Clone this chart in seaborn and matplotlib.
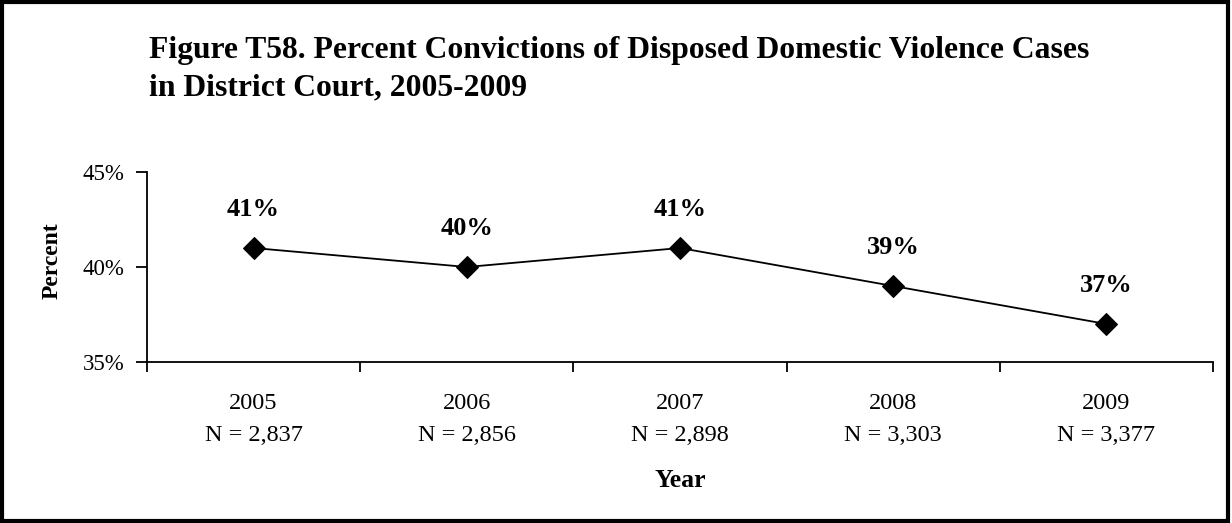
import matplotlib
matplotlib.use("Agg")
import matplotlib.pyplot as plt
from matplotlib.patches import Rectangle
from matplotlib.ticker import FixedLocator, PercentFormatter
import seaborn as sns
import pandas as pd

years = ["2005", "2006", "2007", "2008", "2009"]
case_counts = ["2,837", "2,856", "2,898", "3,303", "3,377"]
pct_convicted = [41, 40, 41, 39, 37]
title_lines = ["Figure T58. Percent Convictions of Disposed Domestic Violence Cases",
               "in District Court, 2005-2009"]

sns.set_theme(style="white")
plt.rcParams["font.family"] = ["Liberation Serif", "DejaVu Serif"]
plt.rcParams.update({"text.color": "black", "axes.labelcolor": "black",
                     "xtick.color": "black", "ytick.color": "black"})

df = pd.DataFrame({"pos": range(len(years)), "pct": pct_convicted})

W, H = 1232, 523
fig = plt.figure(figsize=(W / 100, H / 100), dpi=100)
ax = fig.add_axes([147 / W, 1 - 362 / H, (1213 - 147) / W, (362 - 172) / H])

sns.lineplot(data=df, x="pos", y="pct", ax=ax, color="black", linewidth=1.3,
             marker="D", markersize=11.5, markeredgecolor="black",
             markerfacecolor="black")

for x, y in zip(df["pos"], df["pct"]):
    ax.annotate(f"{y}%", (x, y), xytext=(0, 19.5), textcoords="offset points",
                ha="center", va="bottom", fontsize=19, fontweight="bold")

ax.set_xlim(-0.5, len(years) - 0.5)
ax.set_ylim(35, 45)
ax.yaxis.set_major_locator(FixedLocator([35, 40, 45]))
ax.yaxis.set_major_formatter(PercentFormatter(decimals=0))

# category labels sit between boundary tick marks
ax.set_xticks([i - 0.5 for i in range(len(years) + 1)])
ax.set_xticklabels([])
ax.set_xticks(list(range(len(years))), minor=True)
ax.set_xticklabels([f"{y}\nN = {n}" for y, n in zip(years, case_counts)],
                   minor=True, fontsize=17.5, linespacing=1.7)
ax.tick_params(axis="x", which="major", direction="out", length=7, width=1.3,
               bottom=True)
ax.tick_params(axis="x", which="minor", length=0, pad=22)
ax.tick_params(axis="y", direction="out", length=8, width=1.3, left=True,
               labelsize=16.5, pad=8)

for side in ("top", "right"):
    ax.spines[side].set_visible(False)
for side in ("left", "bottom"):
    ax.spines[side].set_color("black")
    ax.spines[side].set_linewidth(1.3)

ax.set_xlabel("Year", fontsize=18.5, fontweight="bold")
ax.xaxis.set_label_coords(0.5, -(481 - 362) / 190)
ax.xaxis.label.set_verticalalignment("center")
ax.set_ylabel("Percent", fontsize=17, fontweight="bold")
ax.yaxis.set_label_coords((63 - 147) / 1066, (362 - 261) / 190)

for i, line in enumerate(title_lines):
    fig.text(149 / W, 1 - (58 + 37 * i) / H, line, ha="left", va="baseline",
             fontsize=22.8, fontweight="bold")

fig.patches.append(Rectangle((0.002, 0.003), 0.995, 0.994, transform=fig.transFigure,
                             fill=False, edgecolor="black", linewidth=3))

fig.savefig("out.png", dpi=100)
